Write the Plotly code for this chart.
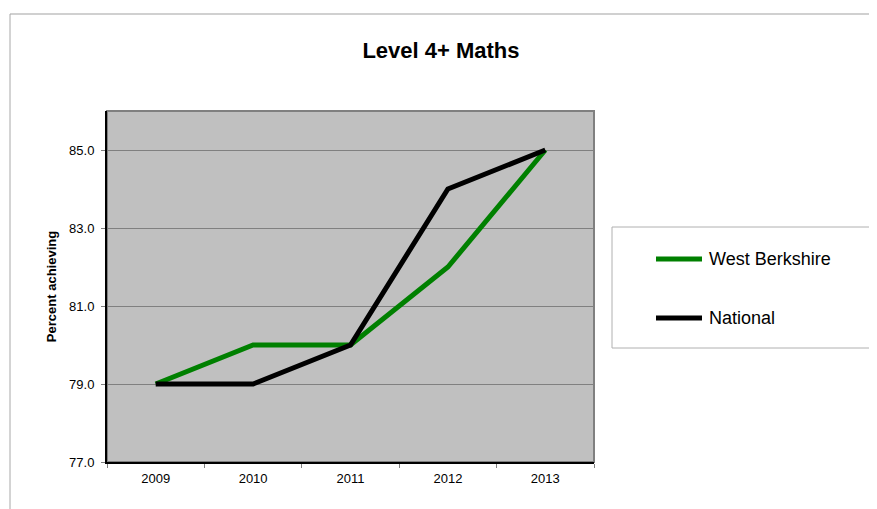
import plotly.graph_objects as go

years = ["2009", "2010", "2011", "2012", "2013"]
west_berkshire = [79, 80, 80, 82, 85]
national = [79, 79, 80, 84, 85]
series = [("West Berkshire", west_berkshire, "#008000"),
          ("National", national, "#000000")]

# page body has an 8px margin, so the figure is 8px smaller than the window
W, H = 869, 501
L, R, T, B = 99, 586, 103, 454
pw, ph = R - L, B - T


def px(x):
    return (x - L) / pw


def py(y):
    return (B - y) / ph


font = "Liberation Sans, Arial, sans-serif"
fig = go.Figure()
for name, values, color in series:
    fig.add_trace(go.Scatter(
        x=years, y=values, name=name, mode="lines",
        line={"color": color, "width": 5},
    ))

shapes = [
    # outer chart frame (top + left edges visible)
    {"type": "line", "xref": "paper", "yref": "paper",
     "x0": px(2), "x1": px(W + 5), "y0": py(6), "y1": py(6),
     "line": {"color": "#D0D0D0", "width": 2}},
    {"type": "line", "xref": "paper", "yref": "paper",
     "x0": px(2), "x1": px(2), "y0": py(6), "y1": py(H + 5),
     "line": {"color": "#A8A8A8", "width": 1}},
    # plot area border
    {"type": "rect", "xref": "paper", "yref": "paper",
     "x0": 0, "x1": 1, "y0": 0, "y1": 1, "layer": "below",
     "line": {"color": "#808080", "width": 2}},
    # legend box
    {"type": "rect", "xref": "paper", "yref": "paper",
     "x0": px(604), "x1": px(863), "y0": py(219), "y1": py(340),
     "line": {"color": "#B0B0B0", "width": 1}, "fillcolor": "white"},
]
annotations = []
for i, (name, values, color) in enumerate(series):
    ly = 251 + i * 59
    shapes.append({"type": "line", "xref": "paper", "yref": "paper",
                   "x0": px(648), "x1": px(694), "y0": py(ly), "y1": py(ly),
                   "line": {"color": color, "width": 5}})
    annotations.append({"text": name, "xref": "paper", "yref": "paper",
                        "x": px(699), "y": py(ly), "xanchor": "left",
                        "yanchor": "middle", "showarrow": False,
                        "font": {"size": 18, "family": font}})

fig.update_layout(
    width=W, height=H,
    margin={"l": L, "r": W - R, "t": T, "b": H - B, "pad": 0},
    paper_bgcolor="white",
    plot_bgcolor="#C0C0C0",
    font={"family": font, "size": 13, "color": "#000000"},
    title={"text": "<b>Level 4+ Maths</b>", "x": 433 / W, "xanchor": "center",
           "y": 1 - 42 / H, "yanchor": "middle",
           "font": {"size": 22, "family": font}},
    showlegend=False,
    shapes=shapes,
    annotations=annotations,
)
fig.update_xaxes(
    type="category", range=[-0.5, 4.5],
    showline=True, linecolor="#000000", linewidth=2,
    ticks="outside", tickson="boundaries", ticklen=4, tickcolor="#808080",
    showgrid=False, zeroline=False, fixedrange=True,
    tickfont={"size": 13}, ticklabelstandoff=3,
)
fig.update_yaxes(
    range=[77, 86], tick0=77, dtick=2, tickformat=".1f",
    showline=True, linecolor="#000000", linewidth=2,
    ticks="outside", ticklen=4, tickcolor="#808080",
    showgrid=True, gridcolor="#808080", gridwidth=1,
    zeroline=False, fixedrange=True,
    title={"text": "<b>Percent achieving</b>", "font": {"size": 13}, "standoff": 10},
    tickfont={"size": 13}, ticklabelstandoff=4,
)
fig.write_html("out.html")
